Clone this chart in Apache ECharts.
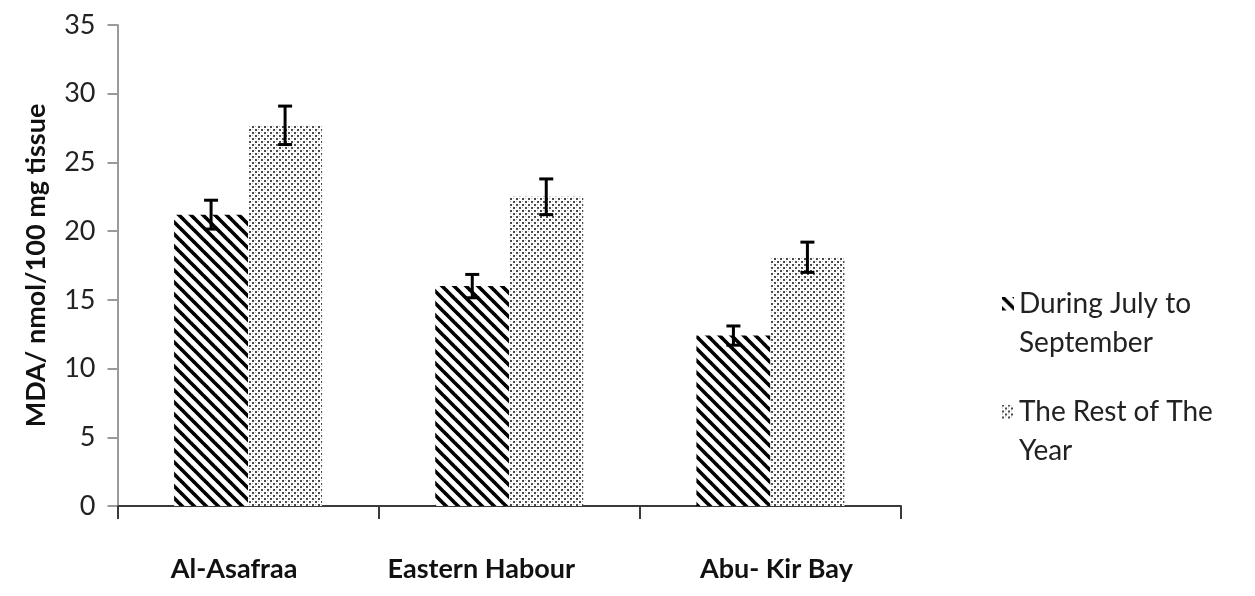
<!DOCTYPE html>
<html>
<head>
<meta charset="utf-8">
<script src="https://cdn.jsdelivr.net/npm/echarts@6/dist/echarts.min.js"></script>
<style>
  html, body { margin: 0; padding: 0; background: #fff; }
  #chart { width: 1255px; height: 596px; }
</style>
</head>
<body>
<div id="chart"></div>
<script>
// MDA levels by site, two sampling periods (mean ± error)
const categories = ['Al-Asafraa', 'Eastern Habour', 'Abu- Kir Bay'];
const seriesNames = ['During July to September', 'The Rest of The Year'];
const legendLabels = ['During July to\nSeptember', 'The Rest of The\nYear'];
const summerValues = [21.2, 16.0, 12.4];
const summerErrors = [1.05, 0.85, 0.7];
const restValues = [27.7, 22.5, 18.1];
const restErrors = [1.4, 1.3, 1.1];
const yMin = 0, yMax = 35, yStep = 5;
const yAxisTitle = 'MDA/ nmol/100 mg tissue';

const FONT = 'Lato, "Open Sans", sans-serif';
const BAR_W = 74;
// horizontal nudge of each site label (px, negative = left)
const labelShift = [-14, -28, 6];

// diagonal hatch tile
function hatchTile() {
  const c = document.createElement('canvas');
  c.width = 12; c.height = 12;
  const g = c.getContext('2d');
  g.fillStyle = '#fff'; g.fillRect(0, 0, 12, 12);
  g.strokeStyle = '#000'; g.lineWidth = 3.6;
  for (let o = -12; o <= 12; o += 12) {
    g.beginPath(); g.moveTo(o - 2, -2); g.lineTo(o + 14, 14); g.stroke();
  }
  return c;
}
// fine dotted tile
function dotTile() {
  const c = document.createElement('canvas');
  c.width = 6; c.height = 6;
  const g = c.getContext('2d');
  g.fillStyle = '#fff'; g.fillRect(0, 0, 6, 6);
  g.fillStyle = '#4a4a4a';
  g.fillRect(0, 0, 2, 2); g.fillRect(3, 3, 2, 2);
  g.fillStyle = '#b5b5b5';
  g.fillRect(3, 0, 1, 1); g.fillRect(0, 3, 1, 1);
  return c;
}
// legend icon: swatch in the top part, rest transparent so it sits on the first text line
function legendIcon(tile, w, h, sw, sh) {
  const c = document.createElement('canvas');
  c.width = w; c.height = h;
  const g = c.getContext('2d');
  g.fillStyle = g.createPattern(tile, 'repeat');
  g.fillRect(0, 0, sw, sh);
  return c.toDataURL();
}

const hatch = hatchTile();
const dots = dotTile();

function errorSeries(values, errors, side) {
  return {
    type: 'custom',
    z: 5,
    silent: true,
    data: values.map((v, i) => [i, v, errors[i]]),
    encode: { x: 0, y: 1 },
    renderItem: function (params, api) {
      const cat = api.value(0), v = api.value(1), e = api.value(2);
      const x = api.coord([cat, v])[0] + side * BAR_W / 2;
      const yTop = api.coord([cat, v + e])[1];
      const yBot = api.coord([cat, v - e])[1];
      const half = 7;
      const style = { stroke: '#000', lineWidth: 3 };
      return {
        type: 'group',
        children: [
          { type: 'line', shape: { x1: x, y1: yTop, x2: x, y2: yBot }, style: style },
          { type: 'line', shape: { x1: x - half, y1: yTop, x2: x + half, y2: yTop }, style: style },
          { type: 'line', shape: { x1: x - half, y1: yBot, x2: x + half, y2: yBot }, style: style }
        ]
      };
    }
  };
}

const chart = echarts.init(document.getElementById('chart'));
chart.setOption({
  animation: false,
  backgroundColor: '#fff',
  grid: { left: 117.5, right: 354, top: 25, bottom: 90, containLabel: false, outerBoundsMode: 'none' },
  legend: {
    orient: 'vertical',
    left: 1002,
    top: 284,
    padding: 0,
    itemGap: 30,
    itemWidth: 12,
    itemHeight: 53,
    data: [
      { name: seriesNames[0], icon: 'image://' + legendIcon(hatch, 12, 53, 12, 14) },
      { name: seriesNames[1], icon: 'image://' + legendIcon(dots, 12, 53, 12, 14) }
    ],
    formatter: function (name) { return legendLabels[seriesNames.indexOf(name)]; },
    textStyle: { fontFamily: FONT, fontSize: 28, color: '#222', lineHeight: 39, padding: [0, 0, 0, 0] },
    selectedMode: false
  },
  xAxis: {
    type: 'category',
    data: categories.map((c, i) => ({
      value: c,
      textStyle: {
        padding: labelShift[i] < 0 ? [0, -2 * labelShift[i], 0, 0] : [0, 0, 0, 2 * labelShift[i]]
      }
    })),
    axisLine: { lineStyle: { color: '#3a3a3a', width: 2 } },
    axisTick: { show: true, length: 13, lineStyle: { color: '#3a3a3a', width: 2 } },
    axisLabel: { fontFamily: FONT, fontSize: 27, fontWeight: 'bold', color: '#111', margin: 50 }
  },
  yAxis: {
    type: 'value',
    min: yMin, max: yMax, interval: yStep,
    name: yAxisTitle,
    nameLocation: 'middle',
    nameGap: 68,
    nameTextStyle: { fontFamily: FONT, fontSize: 27, fontWeight: 'bold', color: '#111' },
    axisLine: { show: true, lineStyle: { color: '#9a9a9a', width: 2 } },
    axisTick: { show: true, length: 10, lineStyle: { color: '#9a9a9a', width: 2 } },
    axisLabel: { fontFamily: FONT, fontSize: 27, color: '#222', margin: 22 },
    splitLine: { show: false }
  },
  series: [
    {
      name: seriesNames[0], type: 'bar', data: summerValues,
      barWidth: BAR_W, barGap: '0%',
      itemStyle: { color: { image: hatch, repeat: 'repeat' } }
    },
    {
      name: seriesNames[1], type: 'bar', data: restValues,
      barWidth: BAR_W, barGap: '0%',
      itemStyle: { color: { image: dots, repeat: 'repeat' } }
    },
    errorSeries(summerValues, summerErrors, -1),
    errorSeries(restValues, restErrors, 1)
  ]
});
</script>
</body>
</html>
